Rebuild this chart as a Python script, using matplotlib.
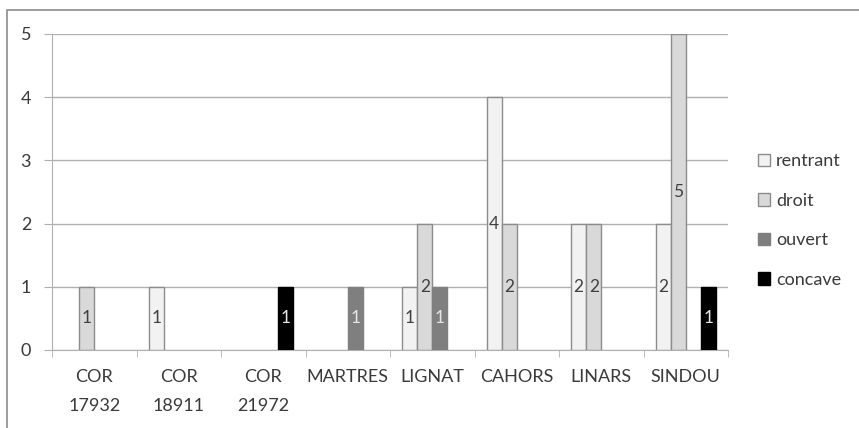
import matplotlib
matplotlib.use("Agg")
import matplotlib.pyplot as plt
import numpy as np
from matplotlib.patches import Rectangle, Patch

categories = ["COR\n17932", "COR\n18911", "COR\n21972", "MARTRES", "LIGNAT", "CAHORS", "LINARS", "SINDOU"]
series_names = ["rentrant", "droit", "ouvert", "concave"]
rentrant = [0, 1, 0, 0, 1, 4, 2, 2]
droit = [1, 0, 0, 0, 2, 2, 2, 5]
ouvert = [0, 0, 0, 1, 1, 0, 0, 0]
concave = [0, 0, 1, 0, 0, 0, 0, 1]
yticks = [0, 1, 2, 3, 4, 5]

plt.rcParams['font.family'] = ['Lato', 'DejaVu Sans']

fills = ["#f2f2f2", "#d9d9d9", "#7f7f7f", "#000000"]
edges = ["#8c8c8c", "#8c8c8c", "#7f7f7f", "#000000"]
label_colors = ["#404040", "#404040", "#e6e6e6", "#e6e6e6"]
txt = "#3a3a3a"

fig = plt.figure(figsize=(8.59, 4.28), dpi=100)
fig.patches.append(Rectangle((7/859, -0.1), 1.2, 1 - 10/428 + 0.1, transform=fig.transFigure,
                             fill=False, edgecolor="#8c8c8c", linewidth=1.2))
ax = fig.add_axes([52/859, 1 - 350/428, (728-52)/859, (350-34)/428])

x = np.arange(len(categories))
w = 0.178
data = [rentrant, droit, ouvert, concave]
handles = []
for i, (name, vals) in enumerate(zip(series_names, data)):
    pos = x + (i - 1.5) * w
    lws = [1.0 if v > 0 else 0.0 for v in vals]
    ax.bar(pos, vals, width=w, color=fills[i], edgecolor=edges[i], linewidth=lws, zorder=3)
    handles.append(Patch(facecolor=fills[i], edgecolor=edges[i], linewidth=1.0, label=name))
    for p, v in zip(pos, vals):
        if v > 0:
            ax.text(p, v / 2, str(v), ha="center", va="center", fontsize=12.5,
                    color=label_colors[i], zorder=4)

ax.set_ylim(0, 5)
ax.set_xlim(-0.5, len(categories) - 0.5)
ax.set_yticks(yticks)
ax.yaxis.grid(True, color="#b0b0b0", linewidth=1.0, zorder=0)
ax.set_axisbelow(True)
ax.set_xticks(x)
ax.set_xticklabels(categories, fontsize=13, color=txt, linespacing=2.0)
ax.set_xticks(np.arange(len(categories) + 1) - 0.5, minor=True)
ax.tick_params(axis="x", which="major", length=0, pad=14)
ax.tick_params(axis="x", which="minor", length=5, color="#b0b0b0", direction="out")
ax.tick_params(axis="y", length=6, color="#b0b0b0", labelsize=13, labelcolor=txt, pad=9)
for s in ["top", "right"]:
    ax.spines[s].set_visible(False)
ax.spines["left"].set_color("#b0b0b0")
ax.spines["bottom"].set_color("#b0b0b0")

leg = ax.legend(handles=handles, loc="center left", bbox_to_anchor=(1.02, 0.41), frameon=False,
                fontsize=13, handlelength=0.7, handleheight=0.7, handletextpad=0.3,
                labelspacing=1.3, labelcolor=txt)

fig.savefig("out.png", dpi=100)
